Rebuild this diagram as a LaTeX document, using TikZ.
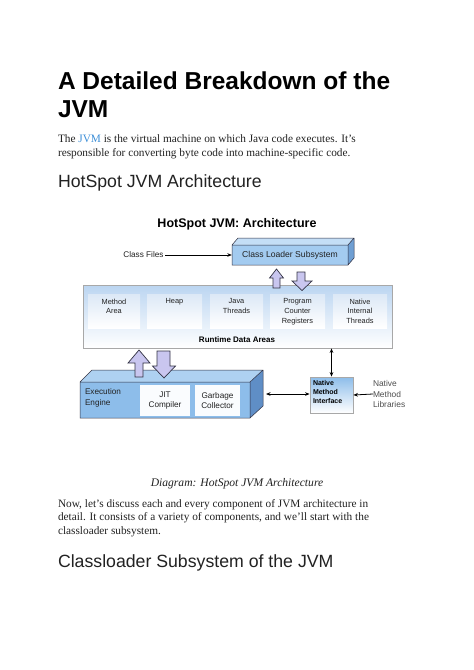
\documentclass[tikz,border=0pt]{standalone}
\usepackage{fontspec}
\setmainfont{Liberation Serif}
\newfontfamily\arialf{Liberation Sans}
\usetikzlibrary{arrows.meta}
\definecolor{linkblue}{HTML}{3D8FD8}
\definecolor{txt}{HTML}{222222}
\definecolor{clfront}{HTML}{A3CBF0}
\definecolor{cltop}{HTML}{C4DEF6}
\definecolor{clside}{HTML}{6F9FD3}
\definecolor{eefront}{HTML}{8DBDEA}
\definecolor{eetop}{HTML}{AED1F1}
\definecolor{eeside}{HTML}{5F8EC6}
\definecolor{rdtop}{HTML}{BBD5F1}
\definecolor{innertop}{HTML}{DCE8F6}
\definecolor{boxgray}{HTML}{A8A8A8}
\definecolor{blk}{HTML}{C9C6EF}
\definecolor{blkline}{HTML}{333344}
\tikzset{
  txtnode/.style={inner sep=0pt, outer sep=0pt, anchor=base west, text=txt},
  h1/.style={txtnode, font=\arialf\fontsize{24.5}{28}\selectfont\bfseries, text=black},
  h2/.style={txtnode, font=\arialf\fontsize{17.7}{21}\selectfont},
  body/.style={txtnode, font=\fontsize{11.3}{14}\selectfont},
  dtitle/.style={txtnode, anchor=base, font=\arialf\fontsize{12.5}{15}\selectfont\bfseries, text=black},
  dsmall/.style={inner sep=0pt, outer sep=0pt, font=\arialf\fontsize{7.4}{9.6}\selectfont, align=center, text=txt},
  inbox/.style={draw=none, top color=innertop, bottom color=white, inner sep=0pt},
  blockarrow/.style={fill=blk, draw=blkline, line width=0.7pt, line join=miter},
  conn/.style={draw=black, line width=0.8pt},
}
\begin{document}
\begin{tikzpicture}[x=1pt,y=-1pt]
\useasboundingbox[fill=white] (0,0) rectangle (474,670);

% --- page text ---
\node[h1] (t1) at (58,89) {A Detailed Breakdown of the};
\node[h1] (t2) at (58,117) {JVM};
\node[body] (p1) at (58,142) {The \textcolor{linkblue}{JVM} is the virtual machine on which Java code executes. It's};
\node[body] (p2) at (58,156) {responsible for converting byte code into machine-specific code.};
\node[h2] (h2a) at (58,187) {HotSpot JVM Architecture};

% --- diagram ---
\node[dtitle] (dt) at (237,227) {HotSpot JVM: Architecture};

% Class loader subsystem (3D box)
\fill[cltop] (232,245) -- (238,238) -- (354,238) -- (348,245) -- cycle;
\fill[clside] (348,245) -- (354,238) -- (354,258) -- (348,265) -- cycle;
\node[fill=clfront, minimum width=116pt, minimum height=20pt, inner sep=0pt,
      font=\arialf\fontsize{8.6}{10}\selectfont, text=txt] (cl) at (290,255) {Class Loader Subsystem};
\draw[blkline, line width=0.5pt] (232,265) -- (232,245) -- (238,238) -- (354,238) -- (354,258) -- (348,265) -- cycle
      (232,245) -- (348,245) -- (348,265) (348,245) -- (354,238);

\node[dsmall, font=\arialf\fontsize{8.2}{10}\selectfont, anchor=east, outer sep=1.5pt] (cf) at (165,255) {Class Files};
\draw[conn, -{Stealth[length=4.5pt,width=3.6pt]}] (cf.east) -- (cl.west);

% Runtime data areas
\node[draw=boxgray, line width=0.8pt, top color=rdtop, bottom color=white, minimum width=309pt, minimum height=63pt, inner sep=0pt] (rda) at (237.5,316.5) {};
\node[inbox, minimum width=52pt, minimum height=34pt] (ma) at (114,311) {};
\node[inbox, minimum width=55pt, minimum height=34pt] (hp) at (174.5,311) {};
\node[inbox, minimum width=53pt, minimum height=34pt] (jt) at (236.5,311) {};
\node[inbox, minimum width=55pt, minimum height=34pt] (pc) at (297.5,311) {};
\node[inbox, minimum width=54pt, minimum height=34pt] (ni) at (360,311) {};
\node[dsmall, anchor=north] at ([yshift=-5pt]ma.north) {Method\\Area};
\node[dsmall, anchor=north] at ([yshift=-5pt]hp.north) {Heap};
\node[dsmall, anchor=north] at ([yshift=-5pt]jt.north) {Java\\Threads};
\node[dsmall, anchor=north] at ([yshift=-5pt]pc.north) {Program\\Counter\\Registers};
\node[dsmall, anchor=north] at ([yshift=-5pt]ni.north) {Native\\Internal\\Threads};
\node[dsmall, font=\arialf\fontsize{8}{10}\selectfont\bfseries, text=black, anchor=base] at (237,342) {Runtime Data Areas};

% block arrows between class loader and runtime
\draw[blockarrow] (276.5,269) -- (283.5,278) -- (280,278) -- (280,288) -- (273,288) -- (273,278) -- (269.5,278) -- cycle;
\draw[blockarrow] (297,272) -- (305,272) -- (305,281) -- (312,281) -- (302,290.5) -- (292,281) -- (297,281) -- cycle;

% Execution engine (3D box)
\fill[eetop] (80,382) -- (92,370) -- (263,370) -- (250,382) -- cycle;
\fill[eeside] (250,382) -- (263,370) -- (263,406) -- (250,418) -- cycle;
\node[fill=eefront, minimum width=170pt, minimum height=36pt, inner sep=0pt] (ee) at (165,400) {};
\draw[blkline, line width=0.5pt] (80,418) -- (80,382) -- (92,370) -- (263,370) -- (263,406) -- (250,418) -- cycle
      (80,382) -- (250,382) -- (250,418) (250,382) -- (263,370);
\node[dsmall, font=\arialf\fontsize{8.2}{10.5}\selectfont, align=left, anchor=north west] at (85,389) {Execution\\Engine};
\node[fill=white!85!innertop, inner sep=0pt, minimum width=50pt, minimum height=31pt] (jit) at (165,400.5) {};
\node[fill=white!85!innertop, inner sep=0pt, minimum width=45pt, minimum height=31pt] (gc) at (217.5,400.5) {};
\node[dsmall, font=\arialf\fontsize{8.2}{10.5}\selectfont] at (jit) {JIT\\Compiler};
\node[dsmall, font=\arialf\fontsize{8.2}{10.5}\selectfont] at (gc) {Garbage\\Collector};

% block arrows between runtime and execution engine
\draw[blockarrow] (139,350) -- (150,363) -- (143,363) -- (143,377) -- (135,377) -- (135,363) -- (128,363) -- cycle;
\draw[blockarrow] (157,351) -- (170,351) -- (170,366) -- (175.5,366) -- (164,378) -- (152.5,366) -- (157,366) -- cycle;

% Native method interface
\node[draw=boxgray, line width=0.8pt, top color=eefront, bottom color=white, minimum width=43pt, minimum height=36pt, inner sep=0pt] (nmi) at (331.5,395) {};
\node[dsmall, font=\arialf\fontsize{7}{9.2}\selectfont\bfseries, text=black, align=left, anchor=north west] at (313,380.5) {Native\\Method\\Interface};

\node[dsmall, font=\arialf\fontsize{8.4}{10.5}\selectfont, align=left, anchor=west, text=txt!80!white] (nml) at (373,394) {Native\\Method\\Libraries};

\coordinate (eer) at (266,394);
\draw[conn, {Stealth[length=4.5pt,width=3.6pt]}-{Stealth[length=4.5pt,width=3.6pt]}] (eer) -- (nmi.west |- eer);
\draw[conn, {Stealth[length=4.5pt,width=3.6pt]}-{Stealth[length=4.5pt,width=3.6pt]}] (nmi.north |- rda.south) -- (nmi.north);
\draw[conn, -{Stealth[length=4.5pt,width=3.6pt]}] (nml.west) -- (nmi.east);

% --- lower page text ---
\node[txtnode, anchor=base, font=\fontsize{11.6}{14}\selectfont\itshape] (cap) at (237,486) {Diagram: HotSpot JVM Architecture};
\node[body] (q1) at (58,507) {Now, let’s discuss each and every component of JVM architecture in};
\node[body] (q2) at (58,520.5) {detail. It consists of a variety of components, and we’ll start with the};
\node[body] (q3) at (58,534) {classloader subsystem.};
\node[h2] (h2b) at (58,567) {Classloader Subsystem of the JVM};
\end{tikzpicture}
\end{document}
